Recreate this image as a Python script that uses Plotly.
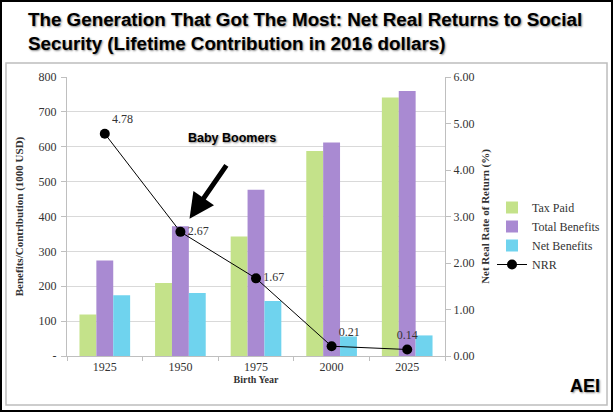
import plotly.graph_objects as go

years = ["1925", "1950", "1975", "2000", "2025"]
tax_paid = [119, 209, 343, 588, 741]
total_benefits = [274, 372, 477, 612, 760]
net_benefits = [174, 181, 158, 56, 59]
nrr = [4.78, 2.67, 1.67, 0.21, 0.14]
nrr_labels = ["4.78", "2.67", "1.67", "0.21", "0.14"]

left_ticks = [0, 100, 200, 300, 400, 500, 600, 700, 800]
left_ticktext = ["-", "100", "200", "300", "400", "500", "600", "700", "800"]

serif = "Liberation Serif"
sans = "Liberation Sans"
txt = "#333333"

fig = go.Figure()
fig.add_trace(go.Bar(name="Tax Paid", x=years, y=tax_paid,
                     marker=dict(color="#c4e28a", line=dict(width=0))))
fig.add_trace(go.Bar(name="Total Benefits", x=years, y=total_benefits,
                     marker=dict(color="#a98ad2", line=dict(width=0))))
fig.add_trace(go.Bar(name="Net Benefits", x=years, y=net_benefits,
                     marker=dict(color="#6fd3ee", line=dict(width=0))))
fig.add_trace(go.Scatter(name="NRR", x=years, y=nrr, yaxis="y2",
                         mode="lines+markers+text",
                         line=dict(color="black", width=1),
                         marker=dict(color="black", size=10),
                         text=nrr_labels,
                         textposition=["top right", "middle right", "middle right", "top right", "top center"],
                         textfont=dict(family=serif, size=12, color=txt)))

fig.update_layout(
    width=613, height=413, autosize=False,
    margin=dict(l=67, r=168, t=77, b=57),
    paper_bgcolor="white", plot_bgcolor="white",
    barmode="group", bargap=0.33, bargroupgap=0,
    showlegend=True,
    legend=dict(xref="container", yref="container", x=492 / 613, y=1 - 193 / 413,
                xanchor="left", yanchor="top",
                font=dict(family=serif, size=12, color=txt),
                bgcolor="rgba(0,0,0,0)", tracegroupgap=0),
    xaxis=dict(type="category", range=[-0.5, 4.5], autorange=False, automargin=False,
               showgrid=False, showline=True, linecolor="#bfbfbf",
               ticks="outside", tickson="boundaries", ticklen=4, tickcolor="#bfbfbf",
               tickfont=dict(family=serif, size=12, color=txt),
               title=dict(text="<b>Birth Year</b>", font=dict(family=serif, size=10, color=txt), standoff=2)),
    yaxis=dict(range=[0, 800], tickvals=left_ticks, ticktext=left_ticktext, automargin=False,
               showgrid=True, gridcolor="#d9d9d9", gridwidth=1,
               showline=True, linecolor="#bfbfbf", ticks="outside", ticklen=5, tickcolor="#bfbfbf",
               zeroline=False, ticklabelstandoff=2,
               tickfont=dict(family=serif, size=12, color=txt),
               title=dict(text="<b>Benefits/Contribution (1000 USD)</b>",
                          font=dict(family=serif, size=11, color=txt), standoff=12)),
    yaxis2=dict(range=[0, 6], dtick=1, tickformat=".2f", overlaying="y", side="right", automargin=False,
                showgrid=False, showline=True, linecolor="#bfbfbf", ticks="outside", ticklen=5,
                tickcolor="#bfbfbf", zeroline=False,
                tickfont=dict(family=serif, size=12, color=txt),
                title=dict(text="<b>Net Real Rate of Return (%)</b>",
                           font=dict(family=serif, size=11, color=txt), standoff=8)),
)

# borders
fig.add_shape(type="rect", xref="paper", yref="paper",
              x0=-0.1614, x1=1.4286, y0=-0.1756, y1=1.050,
              line=dict(color="#bdbdbd", width=1.5), layer="below")
fig.add_shape(type="rect", xref="paper", yref="paper",
              x0=-0.1746, x1=1.4418, y0=-0.197, y1=1.2724,
              line=dict(color="black", width=2), layer="below")

shadow = "1px 1px 2px #888888"
fig.add_annotation(xref="paper", yref="paper", x=(26 - 67) / 378, y=(356 - 7) / 279,
                   xanchor="left", yanchor="top",
                   align="left", showarrow=False,
                   text="<b>The Generation That Got The Most: Net Real Returns to Social<br>Security (Lifetime Contribution in 2016 dollars)</b>",
                   font=dict(family=sans, size=18.8, color="black", shadow=shadow))
fig.add_annotation(x=1, y=2.67, xref="x", yref="y2",
                   ax=227 - 180, ay=163 - 231, axref="pixel", ayref="pixel",
                   showarrow=True, arrowhead=2, arrowsize=1.0, arrowwidth=5, arrowcolor="black",
                   standoff=16, text="")
fig.add_annotation(xref="paper", yref="paper", x=(232 - 67) / 378, y=(356 - 138) / 279,
                   xanchor="center", yanchor="middle",
                   showarrow=False, text="<b>Baby Boomers</b>",
                   font=dict(family=sans, size=12.5, color="black", shadow=shadow))
fig.add_annotation(xref="paper", yref="paper", x=(585 - 67) / 378, y=(356 - 386) / 279,
                   xanchor="center", yanchor="middle",
                   showarrow=False, text="<b>AEI</b>",
                   font=dict(family=sans, size=18, color="black", shadow=shadow))

fig.write_html("out.html",
               config={"responsive": False, "displayModeBar": False},
               post_script="document.body.style.margin='0';document.body.style.overflow='hidden';")
